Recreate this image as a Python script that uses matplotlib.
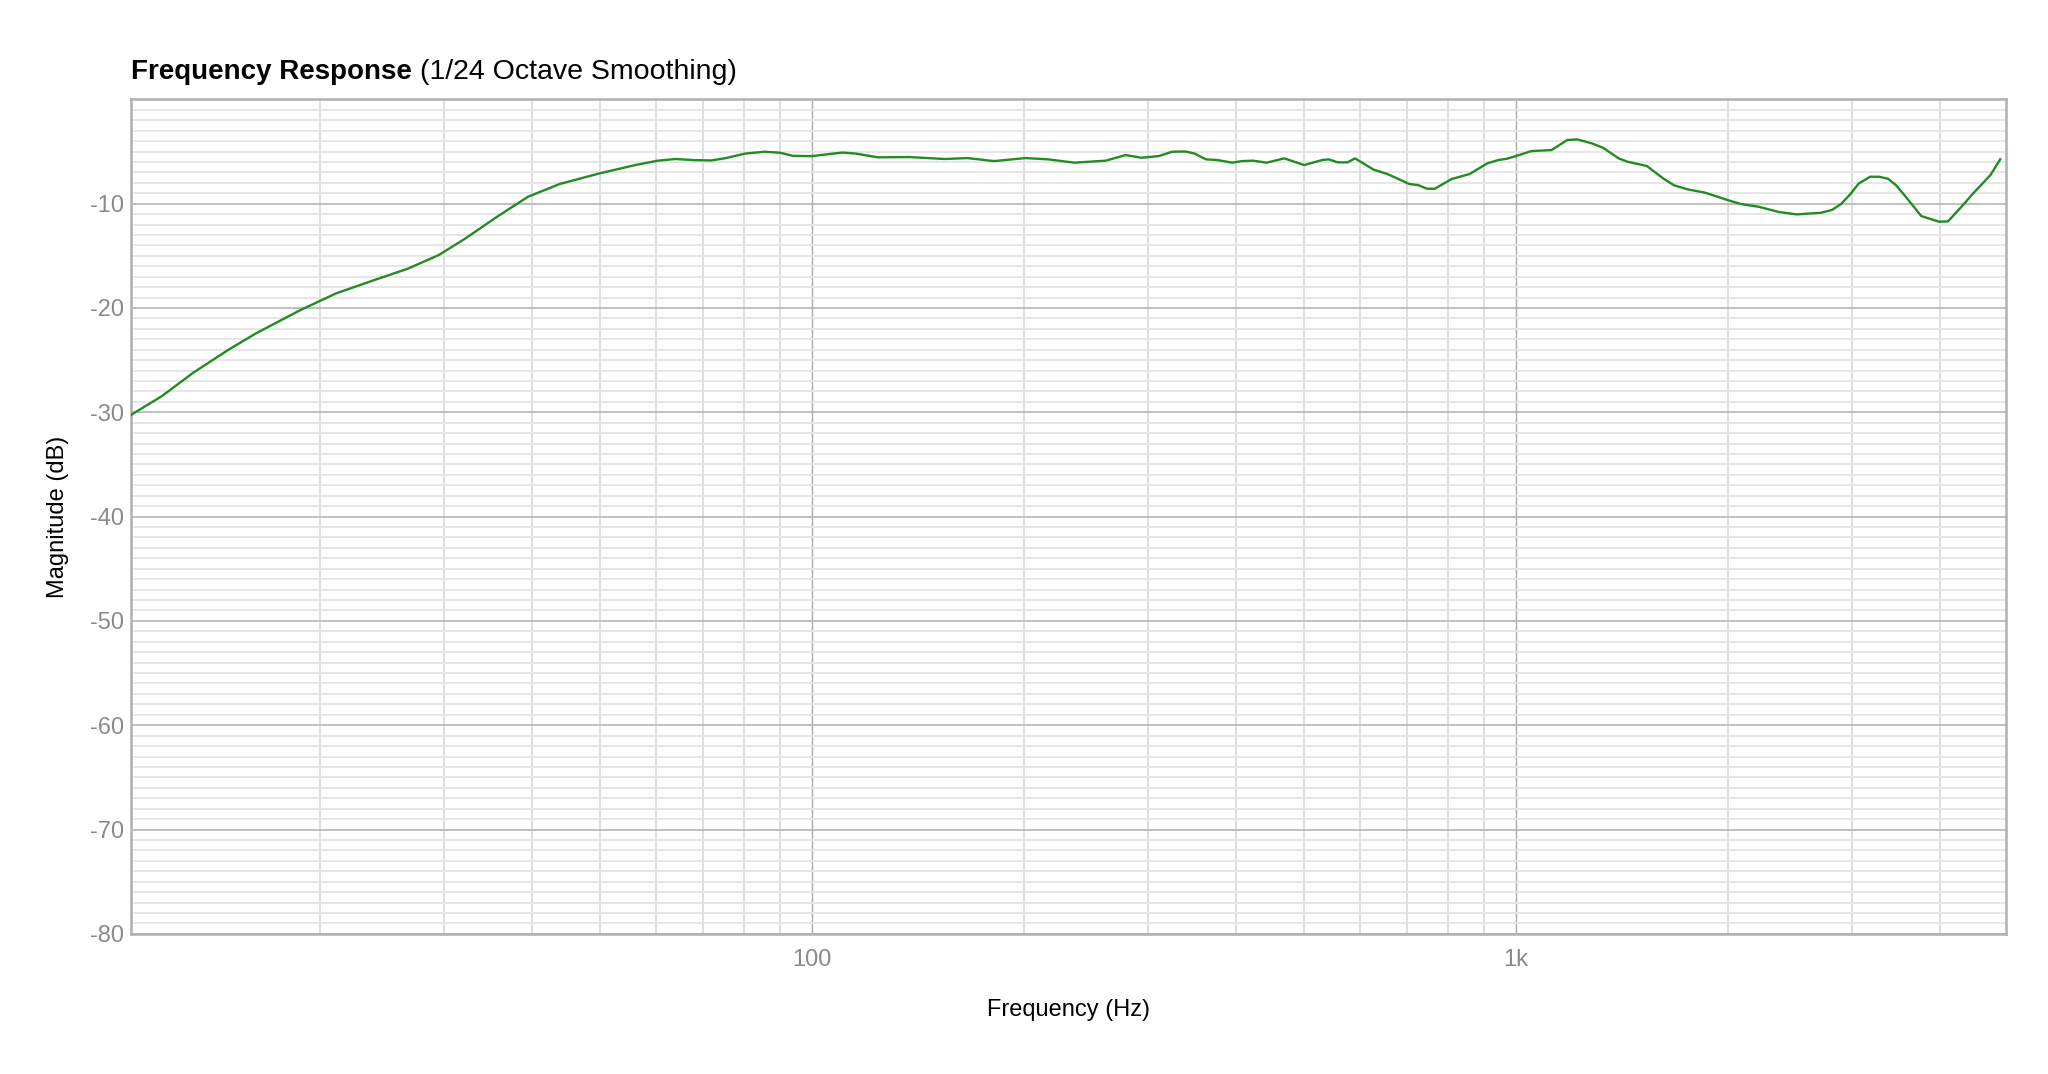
"""Frequency response plot (1/24 octave smoothing)."""
import matplotlib

matplotlib.use("Agg")
import matplotlib.pyplot as plt
from matplotlib.ticker import FixedLocator, LogLocator, MultipleLocator, NullFormatter

plt.rcParams["font.family"] = ["Liberation Sans", "DejaVu Sans"]
plt.rcParams["axes.unicode_minus"] = False

# Values (Hz, dB)
freq_hz = [
    10.77, 11.93, 13.22, 14.86, 16.22, 18.77, 21.09, 24.05, 26.65, 29.5,
    32.2, 35.7, 39.5, 43.8, 49.9, 56.1, 60.4, 64.0, 67.8, 71.9,
    75.1, 80.4, 85.6, 90.1, 94.0, 100, 110.5, 115.4, 124.1, 137.4,
    154.4, 166.2, 181.5, 201, 216.3, 236, 261.4, 279, 294, 311,
    325, 339.6, 349.8, 362.8, 376.5, 396, 408, 423.5, 442.4, 468.9,
    500.4, 530.6, 542, 558.4, 576.6, 591, 628, 658, 706, 726.5,
    748, 767, 810.6, 859.6, 910.6, 944, 972, 1000, 1052, 1124,
    1183, 1222, 1282, 1330, 1400, 1441, 1535, 1619, 1679, 1754,
    1858, 2000, 2089, 2214, 2364, 2506, 2715, 2813, 2897, 2985,
    3071, 3186, 3280, 3378, 3467, 3580, 3767, 3993, 4111, 4296,
    4455, 4723, 4877,
]
magnitude_db = [
    -30.27, -28.45, -26.2, -23.97, -22.44, -20.2, -18.6, -17.26, -16.24, -14.93,
    -13.33, -11.26, -9.34, -8.12, -7.1, -6.3, -5.88, -5.72, -5.82, -5.86,
    -5.66, -5.2, -5.02, -5.12, -5.42, -5.44, -5.1, -5.2, -5.56, -5.53,
    -5.72, -5.63, -5.92, -5.63, -5.75, -6.07, -5.88, -5.34, -5.6, -5.44,
    -5.02, -5.0, -5.2, -5.75, -5.82, -6.07, -5.92, -5.88, -6.07, -5.66,
    -6.3, -5.82, -5.75, -6.04, -6.04, -5.66, -6.74, -7.18, -8.12, -8.22,
    -8.57, -8.57, -7.64, -7.16, -6.14, -5.82, -5.69, -5.44, -4.96, -4.86,
    -3.9, -3.84, -4.22, -4.64, -5.66, -5.98, -6.39, -7.58, -8.25, -8.63,
    -8.95, -9.66, -10.04, -10.3, -10.8, -11.03, -10.87, -10.6, -10.04, -9.11,
    -8.06, -7.42, -7.42, -7.61, -8.22, -9.34, -11.19, -11.73, -11.7, -10.3,
    -9.08, -7.26, -5.75,
]

x_major = [100, 1000]
x_major_labels = ["100", "1k"]
y_major = [-80, -70, -60, -50, -40, -30, -20, -10]

fig = plt.figure(figsize=(20.48, 10.74), dpi=100)
ax = fig.add_axes([0.0638, 0.1305, 0.9157, 0.777])

ax.plot(freq_hz, magnitude_db, color="#228b22", linewidth=1.7, zorder=3)

ax.set_xscale("log")
ax.set_xlim(10.77, 4970)
ax.set_ylim(-80, 0)

ax.xaxis.set_major_locator(FixedLocator(x_major))
ax.set_xticklabels(x_major_labels)
ax.xaxis.set_minor_locator(LogLocator(base=10, subs=range(2, 10)))
ax.xaxis.set_minor_formatter(NullFormatter())
ax.yaxis.set_major_locator(FixedLocator(y_major))
ax.yaxis.set_minor_locator(MultipleLocator(1))

ax.grid(which="minor", axis="y", color="#e4e4e4", linewidth=1.3)
ax.grid(which="minor", axis="x", color="#dcdcdc", linewidth=1.3)
ax.grid(which="major", axis="y", color="#b4b4b4", linewidth=1.2)
ax.grid(which="major", axis="x", color="#ababab", linewidth=1.0)
ax.set_axisbelow(True)

ax.tick_params(which="both", length=0)
ax.tick_params(axis="y", labelsize=17, labelcolor="#8a8a8a", pad=5)
ax.tick_params(axis="x", labelsize=17, labelcolor="#8a8a8a", pad=11)

for spine in ax.spines.values():
    spine.set_color("#b0b0b0")
    spine.set_linewidth(1.8)

ax.set_xlabel("Frequency (Hz)", fontsize=17, labelpad=20)
ax.set_ylabel("Magnitude (dB)", fontsize=17, labelpad=15)

# title in two parts: bold lead, regular remainder placed right after it
t1 = fig.text(0.0638, 0.933, "Frequency Response", fontsize=20,
              fontweight="bold", ha="left", va="center")
fig.canvas.draw()
bb = t1.get_window_extent()
x_next = (bb.x1 + 8) / fig.bbox.width
fig.text(x_next, 0.933, "(1/24 Octave Smoothing)", fontsize=20.5,
         ha="left", va="center")

fig.savefig("out.png", dpi=100)
